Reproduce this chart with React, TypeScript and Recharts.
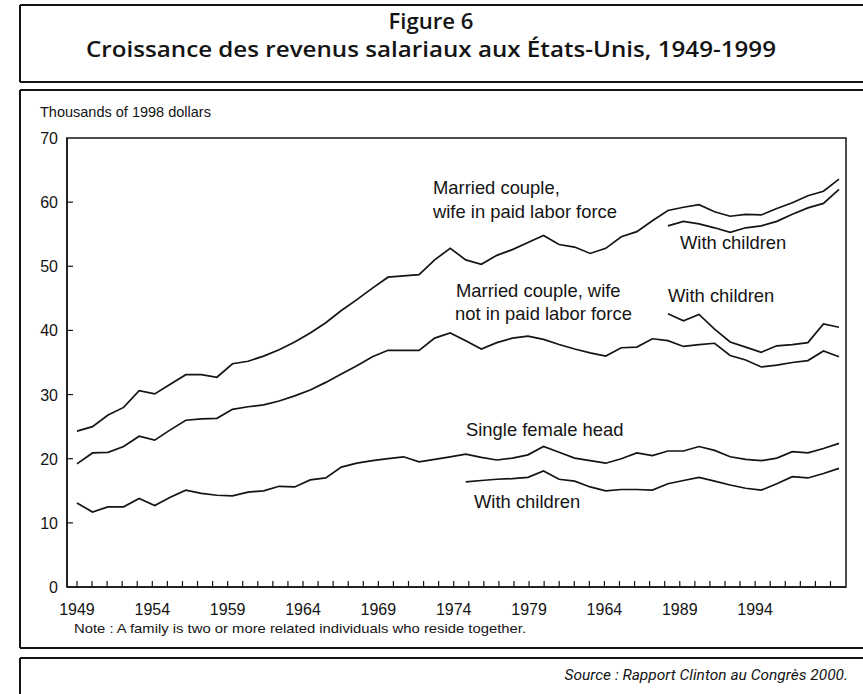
import { LineChart, Line, XAxis, YAxis, ReferenceArea } from "recharts";

document.body.style.margin = "0";

// Thousands of 1998 dollars, 1949-1998
const years = [
  1949, 1950, 1951, 1952, 1953, 1954, 1955, 1956, 1957, 1958,
  1959, 1960, 1961, 1962, 1963, 1964, 1965, 1966, 1967, 1968,
  1969, 1970, 1971, 1972, 1973, 1974, 1975, 1976, 1977, 1978,
  1979, 1980, 1981, 1982, 1983, 1984, 1985, 1986, 1987, 1988,
  1989, 1990, 1991, 1992, 1993, 1994, 1995, 1996, 1997, 1998,
];

const wifeWorking = [
  24.3, 25.0, 26.8, 28.0, 30.6, 30.1, 31.6, 33.1, 33.1, 32.7,
  34.8, 35.2, 36.0, 37.0, 38.2, 39.6, 41.2, 43.1, 44.8, 46.6,
  48.3, 48.5, 48.7, 51.0, 52.8, 51.0, 50.3, 51.7, 52.6, 53.7,
  54.8, 53.4, 53.0, 52.0, 52.8, 54.6, 55.4, 57.1, 58.7, 59.2,
  59.6, 58.5, 57.8, 58.1, 58.0, 59.0, 59.9, 61.0, 61.7, 63.6,
];

const wifeHome = [
  19.2, 20.9, 21.0, 21.9, 23.5, 22.9, 24.5, 26.0, 26.2, 26.3,
  27.7, 28.1, 28.4, 29.0, 29.8, 30.7, 31.9, 33.2, 34.5, 35.9,
  36.9, 36.9, 36.9, 38.8, 39.6, 38.4, 37.1, 38.1, 38.8, 39.1,
  38.6, 37.8, 37.1, 36.5, 36.0, 37.3, 37.4, 38.7, 38.4, 37.5,
  37.8, 38.0, 36.1, 35.4, 34.3, 34.6, 35.0, 35.3, 36.8, 35.9,
];

const femaleHead = [
  13.1, 11.7, 12.5, 12.5, 13.8, 12.7, 14.0, 15.1, 14.6, 14.3,
  14.2, 14.8, 15.0, 15.7, 15.6, 16.7, 17.0, 18.7, 19.3, 19.7,
  20.0, 20.3, 19.5, 19.9, 20.3, 20.7, 20.2, 19.8, 20.1, 20.6,
  21.9, 21.0, 20.1, 19.7, 19.3, 20.0, 20.9, 20.5, 21.2, 21.2,
  21.9, 21.3, 20.3, 19.9, 19.7, 20.1, 21.1, 20.9, 21.6, 22.4,
];

// "With children" series, from their first year
const wifeWorkingKidsFrom = 1987;
const wifeWorkingKids = [56.3, 57.0, 56.6, 56.0, 55.3, 56.0, 56.3, 57.0, 58.1, 59.1, 59.8, 62.0];
const wifeHomeKidsFrom = 1987;
const wifeHomeKids = [42.6, 41.5, 42.5, 40.2, 38.2, 37.4, 36.6, 37.6, 37.8, 38.1, 41.0, 40.5];
const femaleHeadKidsFrom = 1974;
const femaleHeadKids = [
  16.4, 16.6, 16.8, 16.9, 17.1, 18.1, 16.8, 16.5, 15.6, 15.0,
  15.2, 15.2, 15.1, 16.1, 16.6, 17.1, 16.5, 15.9, 15.4, 15.1,
  16.1, 17.2, 17.0, 17.7, 18.5,
];

const yTicks = [0, 10, 20, 30, 40, 50, 60, 70];
// the printed axis: one mark a year, a label every five (the 1984 label is printed "1964")
const axisYears = [...years, 1999];
const xLabelYears = [1949, 1954, 1959, 1964, 1969, 1974, 1979, 1984, 1989, 1994];
const xLabels = ["1949", "1954", "1959", "1964", "1969", "1974", "1979", "1964", "1989", "1994"];

const pick = (arr: number[], from: number, year: number) =>
  year >= from && year - from < arr.length ? arr[year - from] : null;

const rows = years.map((year, i) => ({
  year,
  wifeWorking: wifeWorking[i],
  wifeHome: wifeHome[i],
  femaleHead: femaleHead[i],
  wifeWorkingKids: pick(wifeWorkingKids, wifeWorkingKidsFrom, year),
  wifeHomeKids: pick(wifeHomeKids, wifeHomeKidsFrom, year),
  femaleHeadKids: pick(femaleHeadKids, femaleHeadKidsFrom, year),
}));

const seriesKeys = ["wifeWorking", "wifeHome", "femaleHead", "wifeWorkingKids", "wifeHomeKids", "femaleHeadKids"];

const ink = "#141414";
const sans = "'Liberation Sans', Arial, sans-serif";
const dataDomain: [number, number] = [1948.36, 1998.45];
const labelDomain: [number, number] = [1948.34, 2000.03];

const XTick = (props: any) => {
  const { x, y, payload } = props;
  const idx = xLabelYears.indexOf(payload.value);
  return (
    <g>
      <line x1={x} x2={x} y1={y} y2={y - 6} stroke={ink} strokeWidth={1.2} />
      {idx >= 0 && (
        <text x={x} y={y + 28} textAnchor="middle" fontSize={16} fontFamily={sans} fill={ink}>
          {xLabels[idx]}
        </text>
      )}
    </g>
  );
};

const YTick = (props: any) => {
  const { x, y, payload } = props;
  return (
    <g>
      {payload.value > 0 && payload.value < 70 && (
        <line x1={x} x2={x + 6} y1={y} y2={y} stroke={ink} strokeWidth={1.2} />
      )}
      <text x={x - 9} y={y + 6} textAnchor="end" fontSize={16} fontFamily={sans} fill={ink}>
        {payload.value}
      </text>
    </g>
  );
};

const labels = [
  { text: "Married couple,", x: 433, y: 194 },
  { text: "wife in paid labor force", x: 433, y: 218 },
  { text: "With children", x: 680, y: 249 },
  { text: "Married couple, wife", x: 456, y: 297 },
  { text: "not in paid labor force", x: 455, y: 320 },
  { text: "With children", x: 668, y: 302 },
  { text: "Single female head", x: 466, y: 436 },
  { text: "With children", x: 474, y: 508 },
];

export default function App() {
  return (
    <div style={{ position: "relative", width: 863, height: 694, background: "#fff", overflow: "hidden" }}>
      <div style={{ position: "absolute", left: 0, top: 0 }}>
        <LineChart width={863} height={694} data={rows} margin={{ top: 138, right: 17, bottom: 77, left: 0 }}>
          <XAxis xAxisId="data" dataKey="year" type="number" domain={dataDomain} allowDataOverflow hide height={0} />
          <XAxis
            xAxisId="lbl"
            dataKey="year"
            type="number"
            domain={labelDomain}
            allowDataOverflow
            ticks={axisYears}
            interval={0}
            height={30}
            tickSize={0}
            tickMargin={0}
            tick={<XTick />}
            tickLine={false}
            axisLine={{ stroke: ink, strokeWidth: 1.5 }}
          />
          <YAxis
            type="number"
            domain={[0, 70]}
            ticks={yTicks}
            interval={0}
            width={67}
            tickSize={0}
            tickMargin={0}
            tick={<YTick />}
            tickLine={false}
            axisLine={{ stroke: ink, strokeWidth: 1.5 }}
          />
          <ReferenceArea
            xAxisId="lbl"
            x1={labelDomain[0]}
            x2={labelDomain[1]}
            y1={0}
            y2={70}
            ifOverflow="extendDomain"
            fill="none"
            stroke={ink}
            strokeWidth={1.5}
            fillOpacity={0}
          />
          {seriesKeys.map((k) => (
            <Line
              key={k}
              xAxisId="data"
              dataKey={k}
              type="linear"
              stroke={ink}
              strokeWidth={1.7}
              dot={false}
              activeDot={false}
              connectNulls={false}
              isAnimationActive={false}
            />
          ))}
        </LineChart>
      </div>
      <svg width={863} height={694} style={{ position: "absolute", left: 0, top: 0, pointerEvents: "none" }}>
        <g stroke={ink} strokeWidth={2} fill="none">
          <path d="M20 5 H863 M20 5 V82 M20 82 H863" />
          <path d="M20 90 H863 M20 90 V648 M20 648 H863" />
          <path d="M20 658 H863 M20 658 V694" />
        </g>
        <g fill={ink} fontFamily="'Open Sans', sans-serif" fontWeight={600} textAnchor="middle">
          <text x={431} y={29} fontSize={21} textLength={85} lengthAdjust="spacingAndGlyphs">
            Figure 6
          </text>
          <text x={431} y={57} fontSize={21} textLength={690} lengthAdjust="spacingAndGlyphs">
            Croissance des revenus salariaux aux États-Unis, 1949-1999
          </text>
        </g>
        <text x={40} y={117} fontSize={14.5} fontFamily={sans} fill={ink}>
          Thousands of 1998 dollars
        </text>
        {labels.map((l, i) => (
          <text key={i} x={l.x} y={l.y} fontSize={18.4} fontFamily={sans} fill={ink}>
            {l.text}
          </text>
        ))}
        <text x={74} y={633} fontSize={13} fontFamily={sans} fill={ink} textLength={452} lengthAdjust="spacingAndGlyphs">
          Note : A family is two or more related individuals who reside together.
        </text>
        <text x={848} y={680} fontSize={15.5} fontStyle="italic" fontFamily="Roboto, sans-serif" textAnchor="end" fill={ink}>
          Source : Rapport Clinton au Congrès 2000.
        </text>
      </svg>
    </div>
  );
}
